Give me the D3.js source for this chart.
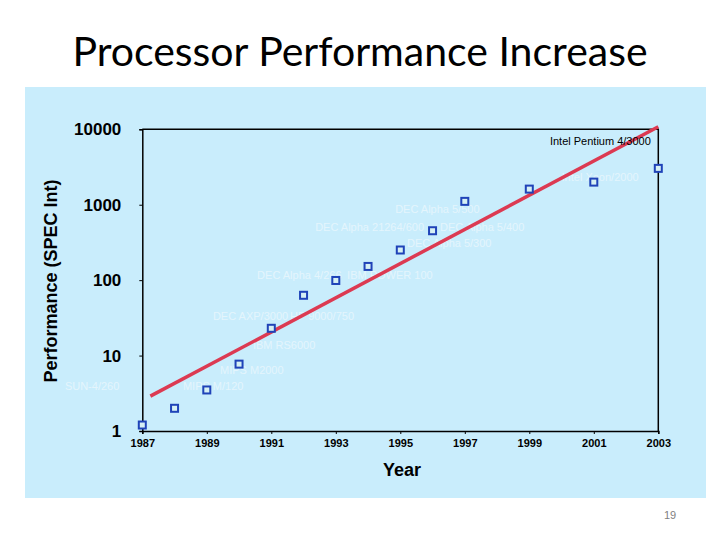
<!DOCTYPE html>
<html><head><meta charset="utf-8">
<script src="https://cdn.jsdelivr.net/npm/d3@7"></script>
<style>body{margin:0;background:#fff}svg{display:block}</style>
</head><body>
<svg id="chart" width="720" height="540"></svg>
<script>
// ---- data ----
const years = [1987, 1988, 1989, 1990, 1991, 1992, 1993, 1994, 1995, 1996, 1997, 1999, 2001, 2003];
const perf = [1.2, 2.0, 3.5, 7.7, 23, 63, 99, 152, 251, 452, 1108, 1611, 1995, 3034];
const trendYears = [1987.25, 2003];
const trendPerf = [2.9, 10800];
const xTicks = [1987, 1989, 1991, 1993, 1995, 1997, 1999, 2001, 2003];
const yTicks = [1, 10, 100, 1000, 10000];
const labelNames = ["SUN-4/260", "MIPS M/120", "MIPS M2000", "IBM RS6000", "DEC AXP/3000", "HP 9000/750",
  "DEC Alpha 4/266", "IBM POWER 100", "DEC Alpha 5/500", "DEC Alpha 21264/600", "DEC Alpha 5/400",
  "DEC Alpha 5/300", "Intel Xeon/2000"];
const labelYears = [1984.6, 1988.26, 1989.41, 1990.43, 1989.19, 1991.58, 1990.56, 1993.35, 1994.84, 1992.36, 1996.23, 1995.21, 2000.0];
const labelPerf = [3.9, 3.95, 6.4, 13.8, 33.4, 33.4, 117, 117, 876, 506, 506, 310, 2325];
const darkLabel = "Intel Pentium 4/3000";
const darkLabelYear = 1999.64, darkLabelPerf = 6980;

// ---- drawing ----
const svg = d3.select("#chart");
const sans = "'Liberation Sans', Arial, sans-serif";

svg.append("text").attr("x", 360).attr("y", 66).attr("text-anchor", "middle")
  .style("font-family", "Lato, 'Open Sans', sans-serif").style("font-size", "41px").attr("fill", "#000")
  .text("Processor Performance Increase");

svg.append("rect").attr("x", 25).attr("y", 87).attr("width", 681).attr("height", 411).attr("fill", "#c9edfc");

svg.append("text").attr("x", 670).attr("y", 519).attr("text-anchor", "middle")
  .style("font-family", sans).style("font-size", "11px").attr("fill", "#7f7f7f").text("19");

const L = 142.3, R = 658.3, T = 129.3, B = 431;
const x = d3.scaleLinear().domain([1987, 2003]).range([L, R]);
const y = d3.scaleLog().domain([1, 10000]).range([B, T]);

// frame
svg.append("path").attr("d", `M${L},${T}H${R}V${B}`).attr("fill", "none").attr("stroke", "#000").attr("stroke-width", 1.5);

const xAxis = svg.append("g").attr("transform", `translate(0,${B})`)
  .call(d3.axisBottom(x).tickValues(xTicks).tickFormat(d3.format("d")).tickSize(3).tickPadding(5));
xAxis.select(".domain").attr("stroke-width", 1.5);
xAxis.selectAll("text").style("font-family", sans).style("font-size", "11px").style("font-weight", "bold").attr("fill", "#000");

const yAxis = svg.append("g").attr("transform", `translate(${L},0)`)
  .call(d3.axisLeft(y).tickValues(yTicks).tickFormat(d3.format("d")).tickSize(3).tickPadding(18));
yAxis.select(".domain").attr("stroke-width", 1.5);
yAxis.selectAll("text").style("font-family", sans).style("font-size", "17px").style("font-weight", "bold").attr("fill", "#000");

svg.append("text").attr("x", 402).attr("y", 476).attr("text-anchor", "middle")
  .style("font-family", sans).style("font-size", "18px").style("font-weight", "bold").text("Year");
svg.append("text").attr("transform", "translate(57,281) rotate(-90)").attr("text-anchor", "middle")
  .style("font-family", sans).style("font-size", "18px").style("font-weight", "bold").text("Performance (SPEC Int)");

// faint labels
svg.append("g").selectAll("text").data(labelNames).join("text")
  .attr("x", (d, i) => x(labelYears[i])).attr("y", (d, i) => y(labelPerf[i]))
  .attr("dy", "0.35em").style("font-family", sans).style("font-size", "11px")
  .attr("fill", "#e4f5fc").text(d => d);

// trend line
svg.append("path").datum(trendYears.map((d, i) => [d, trendPerf[i]]))
  .attr("d", d3.line().x(d => x(d[0])).y(d => y(d[1])))
  .attr("stroke", "#dc3a52").attr("stroke-width", 3.5).attr("fill", "none");

svg.append("text").attr("x", x(darkLabelYear)).attr("y", y(darkLabelPerf)).attr("dy", "0.35em")
  .style("font-family", sans).style("font-size", "11px").attr("fill", "#000").text(darkLabel);

// points
svg.append("g").selectAll("rect").data(years).join("rect")
  .attr("x", d => x(d) - 3.5).attr("y", (d, i) => y(perf[i]) - 3.5)
  .attr("width", 7).attr("height", 7)
  .attr("fill", "#d6f0f4").attr("stroke", "#1f43b8").attr("stroke-width", 2);
</script>
</body></html>
